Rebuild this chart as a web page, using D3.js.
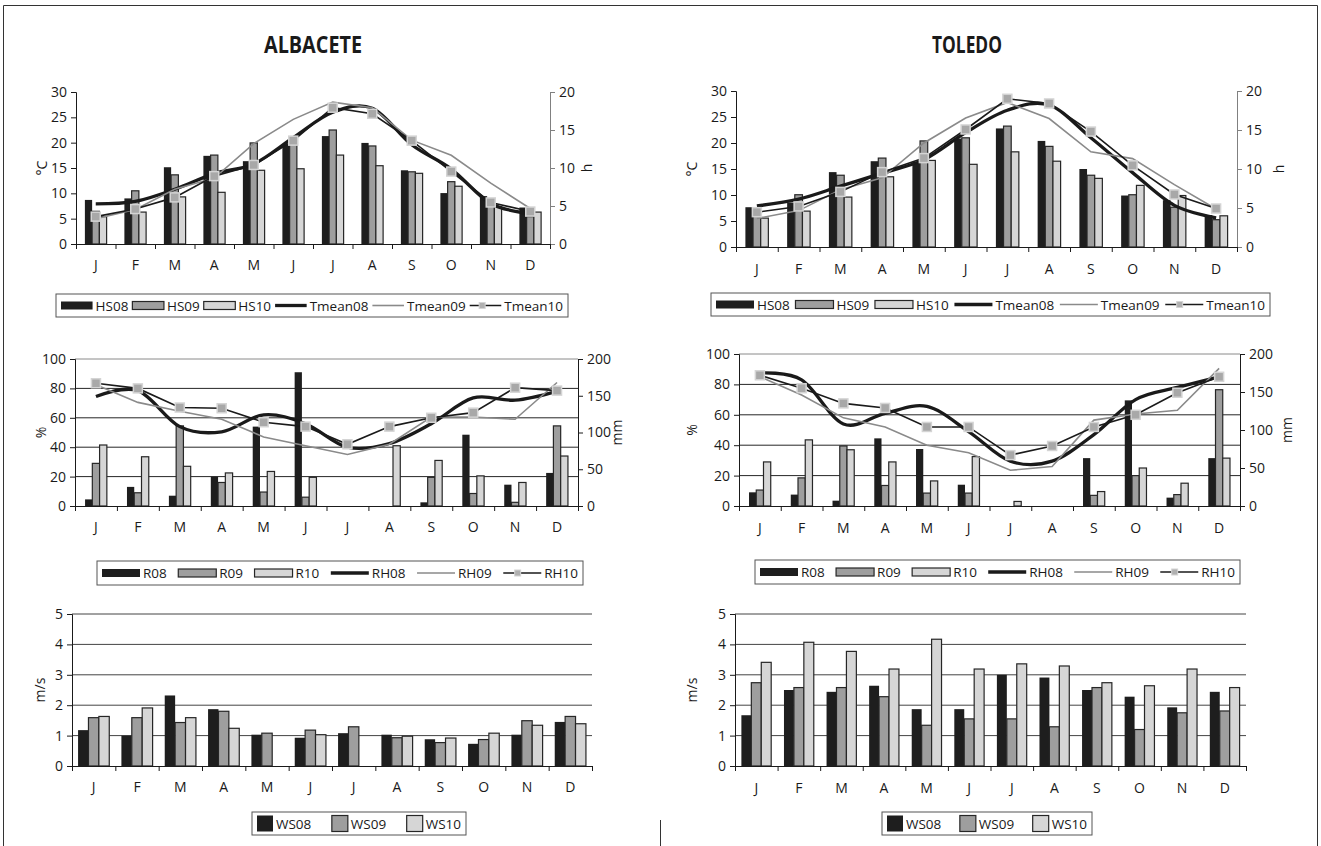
<!DOCTYPE html>
<html>
<head>
<meta charset="utf-8">
<script src="https://cdn.jsdelivr.net/npm/d3@7"></script>
<style>
  body { margin: 0; background: #fff; }
  text { font-family: 'Open Sans', sans-serif; fill: #1a1a1a; }
</style>
</head>
<body>
<svg id="fig" width="1321" height="846"></svg>
<script>
(function(){
    'use strict';

    const months = ['J', 'F', 'M', 'A', 'M', 'J', 'J', 'A', 'S', 'O', 'N', 'D'];

    // Albacete - sunshine hours (h) and mean temperature (degC)
    const hs08A = [5.8, 6.0, 10.1, 11.6, 10.9, 13.1, 14.2, 13.3, 9.7, 6.7, 6.3, 4.8];
    const hs09A = [4.3, 7.0, 9.1, 11.7, 13.3, 13.7, 15.0, 12.9, 9.5, 8.2, 5.6, 3.6];
    const hs10A = [3.6, 4.2, 6.2, 6.8, 9.7, 9.9, 11.7, 10.3, 9.3, 7.6, 4.9, 4.2];
    const tm08A = [7.9, 8.4, 10.8, 13.9, 15.8, 21.0, 26.0, 26.8, 19.6, 14.8, 8.0, 6.0];
    const tm09A = [5.0, 6.8, 10.8, 13.0, 19.8, 24.6, 28.0, 26.9, 20.5, 17.5, 12.0, 7.0];
    const tm10A = [5.4, 6.9, 9.2, 13.4, 15.6, 20.4, 26.9, 25.7, 20.4, 14.3, 8.2, 6.4];

    // Toledo - sunshine hours (h) and mean temperature (degC)
    const hs08T = [5.1, 5.7, 9.6, 11.0, 10.9, 13.9, 15.2, 13.6, 10.0, 6.6, 6.0, 4.1];
    const hs09T = [4.4, 6.7, 9.2, 11.4, 13.6, 14.0, 15.5, 12.9, 9.2, 6.7, 5.1, 3.5];
    const hs10T = [3.7, 4.6, 6.4, 9.0, 11.1, 10.6, 12.2, 11.0, 8.8, 7.9, 6.6, 4.0];
    const tm08T = [7.9, 9.2, 11.7, 14.2, 16.8, 22.0, 26.3, 27.3, 21.0, 14.3, 8.0, 5.6];
    const tm09T = [5.5, 7.0, 11.0, 13.3, 20.0, 24.8, 27.8, 24.7, 18.3, 17.0, 12.0, 7.3];
    const tm10T = [6.7, 7.8, 10.6, 14.4, 17.1, 22.6, 28.5, 27.6, 22.2, 15.7, 10.1, 7.4];

    // Albacete - rainfall (mm) and relative humidity (%)
    const r08A = [9, 26, 14, 40, 108, 182, 0, 0, 5, 97, 29, 45];
    const r09A = [58, 18, 109, 32, 19, 12, 0, 0, 39, 17, 5, 109];
    const r10A = [83, 67, 54, 45, 47, 39, 0, 82, 62, 41, 32, 68];
    const rh08A = [74.5, 78.5, 54, 50.5, 62, 56, 40, 42.5, 56, 73.5, 72, 78];
    const rh09A = [82.5, 70.5, 64.5, 59, 47, 41, 35, 42, 60.5, 60.5, 59, 84];
    const rh10A = [83.5, 80, 67, 66.5, 57, 54, 42, 54, 60, 63.5, 80.5, 78.5];

    // Toledo - rainfall (mm) and relative humidity (%)
    const r08T = [18, 15, 7, 89, 75, 28, 0, 0, 63, 139, 11, 63];
    const r09T = [21, 37, 79, 27, 17, 17, 0, 0, 14, 40, 15, 153];
    const r10T = [58, 87, 74, 58, 33, 65, 6, 0, 19, 50, 30, 63];
    const rh08T = [87.5, 83, 54, 61, 65.5, 49, 29.5, 29.5, 47, 70, 78, 85];
    const rh09T = [85, 73, 58, 52, 40, 35, 23.5, 26, 56.5, 60.5, 63, 90.5];
    const rh10T = [86, 77.5, 67.5, 64.5, 52, 52, 33.5, 39.5, 52, 60, 74.5, 85];

    // Wind speed (m/s), null = no data
    const ws08A = [1.18, 1.0, 2.32, 1.87, 1.03, 0.93, 1.08, 1.03, 0.88, 0.73, 1.03, 1.45];
    const ws09A = [1.59, 1.59, 1.43, 1.80, 1.08, 1.18, 1.29, 0.93, 0.77, 0.87, 1.49, 1.63];
    const ws10A = [1.63, 1.91, 1.59, 1.24, null, 1.03, null, 0.98, 0.92, 1.08, 1.34, 1.39];
    const ws08T = [1.67, 2.5, 2.44, 2.64, 1.87, 1.87, 3.0, 2.91, 2.5, 2.28, 1.93, 2.44];
    const ws09T = [2.74, 2.58, 2.58, 2.28, 1.34, 1.55, 1.55, 1.29, 2.58, 1.2, 1.75, 1.81];
    const ws10T = [3.41, 4.07, 3.77, 3.19, 4.17, 3.19, 3.36, 3.29, 2.74, 2.64, 3.19, 2.58];

    const tempTicks = [0, 5, 10, 15, 20, 25, 30];
    const hourTicks = [0, 5, 10, 15, 20];
    const rhTicks = [0, 20, 40, 60, 80, 100];
    const mmTicks = [0, 50, 100, 150, 200];
    const wsTicks = [0, 1, 2, 3, 4, 5];

    const BAR_FILL = ['#1e1e1e', '#9e9e9e', '#d6d6d6'];
    const FONT = 14;
    const LEGEND_FONT = 13.5;

    const svg = d3.select('#fig');

    // outer frame
    svg.append('path')
        .attr('d', 'M3.5,846 V5.5 H1317.5 V846 M660.5,820 V846')
        .attr('fill', 'none').attr('stroke', '#333').attr('stroke-width', 1);

    // station titles (condensed bold)
    svg.append('text').attr('x', 313).attr('y', 53).attr('text-anchor', 'middle')
        .attr('font-size', 23).attr('font-weight', 700)
        .attr('textLength', 98).attr('lengthAdjust', 'spacingAndGlyphs').text('ALBACETE');
    svg.append('text').attr('x', 967).attr('y', 53).attr('text-anchor', 'middle')
        .attr('font-size', 23).attr('font-weight', 700)
        .attr('textLength', 70).attr('lengthAdjust', 'spacingAndGlyphs').text('TOLEDO');

    function styleAxis(a, color) {
        a.attr('font-size', FONT).attr('font-family', "'Open Sans', sans-serif");
        a.select('.domain').attr('stroke', color);
        a.selectAll('.tick line').attr('stroke', color);
        a.selectAll('.tick text').attr('fill', '#1a1a1a');
    }

    function drawPanel(p) {
        const g = svg.append('g');
        const x = d3.scaleBand().domain(d3.range(12)).range([p.left, p.right]);
        const xEdge = d3.scaleLinear().domain([0, 12]).range([p.left, p.right]);
        const yL = d3.scaleLinear().domain([0, p.leftTicks[p.leftTicks.length - 1]]).range([p.bottom, p.top]);
        const yR = p.rightTicks ? d3.scaleLinear().domain([0, p.rightTicks[p.rightTicks.length - 1]]).range([p.bottom, p.top]) : null;
        const yBar = p.barsRight ? yR : yL;

        // gridlines
        if (p.grid) {
            g.append('g').selectAll('line')
                .data(p.leftTicks.slice(1))
                .enter().append('line')
                    .attr('x1', p.left).attr('x2', p.right)
                    .attr('y1', d => yL(d)).attr('y2', d => yL(d))
                    .attr('stroke', (d, i, all) => (i === all.length - 1 && p.topGrey) ? '#8a8a8a' : p.grid)
                    .attr('stroke-width', 1);
        }

        // grouped bars
        const groupW = x.bandwidth() * p.groupFrac;
        const xs = d3.scaleBand().domain([0, 1, 2]).range([0, groupW]);
        p.bars.forEach((vals, k) => {
            g.append('g').selectAll('rect')
                .data(vals.map((v, i) => ({v, i})).filter(d => d.v != null && d.v > 0))
                .enter().append('rect')
                    .attr('x', d => x(d.i) + (x.bandwidth() - groupW) / 2 + xs(k))
                    .attr('y', d => yBar(d.v))
                    .attr('width', xs.bandwidth())
                    .attr('height', d => yBar(0) - yBar(d.v))
                    .attr('fill', BAR_FILL[k])
                    .attr('stroke', k ? '#262626' : 'none')
                    .attr('stroke-width', 1.2);
        });

        // lines (left axis)
        if (p.lines) {
            const cx = i => x(i) + x.bandwidth() / 2;
            const smooth = d3.line().x((d, i) => cx(i)).y(d => yL(d)).curve(d3.curveCatmullRom.alpha(0));
            const straight = d3.line().x((d, i) => cx(i)).y(d => yL(d));
            g.append('path').datum(p.lines[0]).attr('d', smooth)
                .attr('fill', 'none').attr('stroke', '#1a1a1a').attr('stroke-width', 3.3);
            g.append('path').datum(p.lines[1]).attr('d', straight)
                .attr('fill', 'none').attr('stroke', '#8a8a8a').attr('stroke-width', 1.6);
            g.append('path').datum(p.lines[2]).attr('d', straight)
                .attr('fill', 'none').attr('stroke', '#1a1a1a').attr('stroke-width', 1.6);
            g.append('g').selectAll('rect')
                .data(p.lines[2])
                .enter().append('rect')
                    .attr('x', (d, i) => cx(i) - 4.5)
                    .attr('y', d => yL(d) - 4.5)
                    .attr('width', 9).attr('height', 9)
                    .attr('fill', '#a8a8a8').attr('stroke', '#d4d4d4').attr('stroke-width', 1.5);
        }

        // axes
        g.append('g').attr('transform', `translate(${p.left},0)`)
            .call(d3.axisLeft(yL).tickValues(p.leftTicks).tickFormat(d3.format('d')).tickSize(5).tickPadding(4))
            .call(a => styleAxis(a, '#1a1a1a'));
        if (yR) {
            g.append('g').attr('transform', `translate(${p.right},0)`)
                .call(d3.axisRight(yR).tickValues(p.rightTicks).tickFormat(d3.format('d')).tickSize(5).tickPadding(4))
                .call(a => styleAxis(a, p.rightColor));
        }
        g.append('g').attr('transform', `translate(0,${p.bottom})`)
            .call(d3.axisBottom(xEdge).tickValues(d3.range(13)).tickSize(5).tickFormat(''))
            .call(a => styleAxis(a, '#1a1a1a'));
        g.append('g').attr('transform', `translate(0,${p.bottom})`)
            .call(d3.axisBottom(x).tickFormat(i => months[i]).tickSize(0).tickPadding(p.labelPad))
            .call(a => styleAxis(a, '#1a1a1a'))
            .call(a => a.select('.domain').remove());

        const midY = (p.top + p.bottom) / 2;
        svg.append('text').attr('transform', `translate(${p.leftLabelX},${midY}) rotate(-90)`)
            .attr('text-anchor', 'middle').attr('font-size', FONT).text(p.leftLabel);
        if (p.rightLabel) {
            svg.append('text').attr('transform', `translate(${p.rightLabelX},${midY}) rotate(-90)`)
                .attr('text-anchor', 'middle').attr('font-size', FONT).text(p.rightLabel);
        }
    }

    // legend: swatch + label pairs spread across the box
    function drawLegend(box, items) {
        const g = svg.append('g');
        g.append('rect').attr('x', box.x0).attr('y', box.y0)
            .attr('width', box.x1 - box.x0).attr('height', box.y1 - box.y0)
            .attr('fill', '#fff').attr('stroke', '#555').attr('stroke-width', 1);
        const cy = (box.y0 + box.y1) / 2;
        const labels = items.map(it => g.append('text').attr('font-size', LEGEND_FONT).attr('y', cy + 5).text(it.label));
        const widths = labels.map(t => t.node().getComputedTextLength());
        const n = items.length;
        const pad = 5;
        const avail = box.x1 - box.x0 - 2 * pad - d3.sum(widths) - n * 3;
        const square = items[0].type === 'square';
        const swatch = square ? 16 : Math.min(38, (avail - (n - 1) * 4) / n);
        const gap = (avail - n * swatch) / (n - 1);
        let cx = box.x0 + pad;
        items.forEach((it, i) => {
            if (it.type === 'bar') {
                g.append('rect').attr('x', cx).attr('y', cy - 4).attr('width', swatch).attr('height', 8)
                    .attr('fill', BAR_FILL[it.k]).attr('stroke', it.k ? '#262626' : 'none').attr('stroke-width', 1.2);
            } else if (it.type === 'square') {
                g.append('rect').attr('x', cx).attr('y', cy - 8).attr('width', 16).attr('height', 16)
                    .attr('fill', BAR_FILL[it.k]).attr('stroke', it.k ? '#262626' : 'none').attr('stroke-width', 1.2);
            } else {
                const col = it.k === 1 ? '#8a8a8a' : '#1a1a1a';
                const w = it.k === 0 ? 3.3 : 1.6;
                g.append('line').attr('x1', cx).attr('x2', cx + swatch).attr('y1', cy).attr('y2', cy)
                    .attr('stroke', col).attr('stroke-width', w);
                if (it.k === 2) {
                    g.append('rect').attr('x', cx + swatch * 0.3).attr('y', cy - 3).attr('width', 6).attr('height', 6)
                        .attr('fill', '#b0b0b0').attr('stroke', '#d4d4d4').attr('stroke-width', 1);
                }
            }
            cx += swatch + 3;
            labels[i].attr('x', cx);
            cx += widths[i] + gap;
        });
    }

    const tempLegend = [
        {type: 'bar', k: 0, label: 'HS08'}, {type: 'bar', k: 1, label: 'HS09'}, {type: 'bar', k: 2, label: 'HS10'},
        {type: 'line', k: 0, label: 'Tmean08'}, {type: 'line', k: 1, label: 'Tmean09'}, {type: 'line', k: 2, label: 'Tmean10'}
    ];
    const rhLegend = [
        {type: 'bar', k: 0, label: 'R08'}, {type: 'bar', k: 1, label: 'R09'}, {type: 'bar', k: 2, label: 'R10'},
        {type: 'line', k: 0, label: 'RH08'}, {type: 'line', k: 1, label: 'RH09'}, {type: 'line', k: 2, label: 'RH10'}
    ];
    const wsLegend = [
        {type: 'square', k: 0, label: 'WS08'}, {type: 'square', k: 1, label: 'WS09'}, {type: 'square', k: 2, label: 'WS10'}
    ];

    // Temperature / sunshine
    drawPanel({left: 76, right: 550, top: 92, bottom: 244, leftTicks: tempTicks, rightTicks: hourTicks,
        rightColor: '#808080', barsRight: true, groupFrac: 0.55, bars: [hs08A, hs09A, hs10A],
        lines: [tm08A, tm09A, tm10A], labelPad: 16, leftLabel: '°C', leftLabelX: 47, rightLabel: 'h', rightLabelX: 592});
    drawPanel({left: 736, right: 1237, top: 91, bottom: 247, leftTicks: tempTicks, rightTicks: hourTicks,
        rightColor: '#808080', barsRight: true, groupFrac: 0.55, bars: [hs08T, hs09T, hs10T],
        lines: [tm08T, tm09T, tm10T], labelPad: 17, leftLabel: '°C', leftLabelX: 697, rightLabel: 'h', rightLabelX: 1284});
    drawLegend({x0: 56, x1: 568, y0: 294, y1: 317}, tempLegend);
    drawLegend({x0: 711, x1: 1270, y0: 293, y1: 316}, tempLegend);

    // Humidity / rainfall
    drawPanel({left: 75, right: 578, top: 359, bottom: 506, leftTicks: rhTicks, rightTicks: mmTicks,
        rightColor: '#1a1a1a', barsRight: true, groupFrac: 0.52, bars: [r08A, r09A, r10A],
        lines: [rh08A, rh09A, rh10A], grid: '#262626', topGrey: true, labelPad: 16,
        leftLabel: '%', leftLabelX: 46, rightLabel: 'mm', rightLabelX: 622});
    drawPanel({left: 739, right: 1240, top: 354, bottom: 506, leftTicks: rhTicks, rightTicks: mmTicks,
        rightColor: '#1a1a1a', barsRight: true, groupFrac: 0.52, bars: [r08T, r09T, r10T],
        lines: [rh08T, rh09T, rh10T], grid: '#262626', topGrey: true, labelPad: 17,
        leftLabel: '%', leftLabelX: 697, rightLabel: 'mm', rightLabelX: 1292});
    drawLegend({x0: 97, x1: 583, y0: 561, y1: 585}, rhLegend);
    drawLegend({x0: 755, x1: 1240, y0: 560, y1: 584}, rhLegend);

    // Wind speed
    drawPanel({left: 72, right: 592, top: 614, bottom: 766, leftTicks: wsTicks, groupFrac: 0.72,
        bars: [ws08A, ws09A, ws10A], grid: '#444', labelPad: 16, leftLabel: 'm/s', leftLabelX: 45});
    drawPanel({left: 735, right: 1246, top: 614, bottom: 766, leftTicks: wsTicks, groupFrac: 0.70,
        bars: [ws08T, ws09T, ws10T], grid: '#444', labelPad: 17, leftLabel: 'm/s', leftLabelX: 697});
    drawLegend({x0: 252, x1: 466, y0: 812, y1: 835}, wsLegend);
    drawLegend({x0: 882, x1: 1092, y0: 812, y1: 835}, wsLegend);
})();
</script>
</body>
</html>
